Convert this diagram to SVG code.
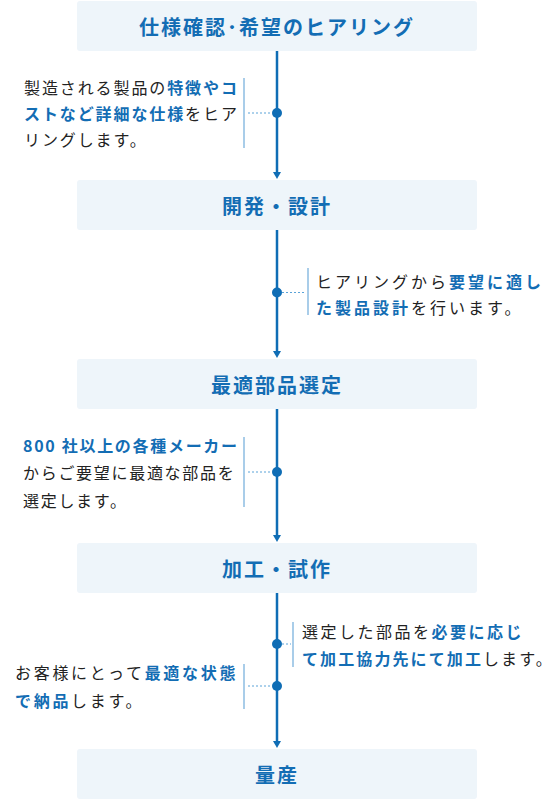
<svg xmlns="http://www.w3.org/2000/svg" width="554" height="801" viewBox="0 0 554 801">
<style>
.box{fill:#eef5fa}
.title{font-family:"Noto Sans CJK JP","Noto Sans",sans-serif;font-size:20px;font-weight:700;fill:#136db4;letter-spacing:2px}
.txt{font-family:"Noto Sans CJK JP","Noto Sans",sans-serif;font-size:16px;fill:#222222}
.hl{fill:#136db4;font-weight:700}
.bar{stroke:#8cbde2;stroke-width:1.5}
.main{stroke:#0f6db5;stroke-width:2.5;fill:none}
.lead{stroke:#5aa3d8;stroke-width:1;stroke-dasharray:2 2}
.dot{fill:#0f6db5}
.arrow{fill:#0f6db5}
</style>
<g id="connectors">
<line class="main" x1="277" y1="51" x2="277" y2="173"/>
<polygon class="arrow" points="273,172 281,172 277,179"/>
<line class="main" x1="277" y1="230" x2="277" y2="352"/>
<polygon class="arrow" points="273,351 281,351 277,358"/>
<line class="main" x1="277" y1="409" x2="277" y2="536"/>
<polygon class="arrow" points="273,535 281,535 277,542"/>
<line class="main" x1="277" y1="593" x2="277" y2="742"/>
<polygon class="arrow" points="273,741 281,741 277,748"/>
<line class="lead" x1="248" y1="113" x2="272" y2="113"/>
<circle class="dot" cx="277" cy="113" r="5"/>
<line class="lead" x1="282" y1="292.5" x2="306" y2="292.5"/>
<circle class="dot" cx="277" cy="292.5" r="5"/>
<line class="lead" x1="248" y1="472" x2="272" y2="472"/>
<circle class="dot" cx="277" cy="472" r="5"/>
<line class="lead" x1="282" y1="644" x2="291" y2="644"/>
<circle class="dot" cx="277" cy="644" r="5"/>
<line class="lead" x1="248" y1="686" x2="272" y2="686"/>
<circle class="dot" cx="277" cy="686" r="5"/>
</g>
<g id="step1">
<rect class="box" x="77" y="1" width="400" height="50" rx="3"/>
<text class="title" x="277" y="26" text-anchor="middle" dominant-baseline="central">仕様確認･希望のヒアリング</text>
</g>
<g id="note1">
<line class="bar" x1="244" y1="78" x2="244" y2="148"/>
<text class="txt" x="24" y="94" letter-spacing="1.9">製造される製品の<tspan class="hl">特徴やコ</tspan></text>
<text class="txt" x="24" y="120" letter-spacing="1.9"><tspan class="hl">ストなど詳細な仕様</tspan>をヒア</text>
<text class="txt" x="24" y="146" letter-spacing="1.9">リングします。</text>
</g>
<g id="step2">
<rect class="box" x="77" y="180" width="400" height="50" rx="3"/>
<text class="title" x="277" y="205" text-anchor="middle" dominant-baseline="central">開発・設計</text>
</g>
<g id="note2">
<line class="bar" x1="308" y1="268" x2="308" y2="315"/>
<text class="txt" x="316" y="288" letter-spacing="3">ヒアリングから<tspan class="hl">要望に適し</tspan></text>
<text class="txt" x="316" y="314" letter-spacing="3"><tspan class="hl">た製品設計</tspan>を行います。</text>
</g>
<g id="step3">
<rect class="box" x="77" y="359" width="400" height="50" rx="3"/>
<text class="title" x="277" y="384" text-anchor="middle" dominant-baseline="central">最適部品選定</text>
</g>
<g id="note3">
<line class="bar" x1="244" y1="437" x2="244" y2="507"/>
<text class="txt" x="23" y="452" letter-spacing="1.7"><tspan class="hl">800 社以上の各種メーカー</tspan></text>
<text class="txt" x="23" y="479" letter-spacing="1.7">からご要望に最適な部品を</text>
<text class="txt" x="23" y="507" letter-spacing="1.7">選定します。</text>
</g>
<g id="step4">
<rect class="box" x="77" y="543" width="400" height="50" rx="3"/>
<text class="title" x="277" y="568" text-anchor="middle" dominant-baseline="central">加工・試作</text>
</g>
<g id="note4">
<line class="bar" x1="293" y1="622" x2="293" y2="667"/>
<text class="txt" x="302" y="638" letter-spacing="2.5">選定した部品を<tspan class="hl">必要に応じ</tspan></text>
<text class="txt" x="302" y="665" letter-spacing="2.1"><tspan class="hl">て加工協力先にて加工</tspan>します。</text>
</g>
<g id="note5">
<line class="bar" x1="244" y1="664" x2="244" y2="709"/>
<text class="txt" x="15" y="679" letter-spacing="2.7">お客様にとって<tspan class="hl">最適な状態</tspan></text>
<text class="txt" x="15" y="707" letter-spacing="2.7"><tspan class="hl">で納品</tspan>します。</text>
</g>
<g id="step5">
<rect class="box" x="77" y="749" width="400" height="50" rx="3"/>
<text class="title" x="277" y="774" text-anchor="middle" dominant-baseline="central">量産</text>
</g>
</svg>
